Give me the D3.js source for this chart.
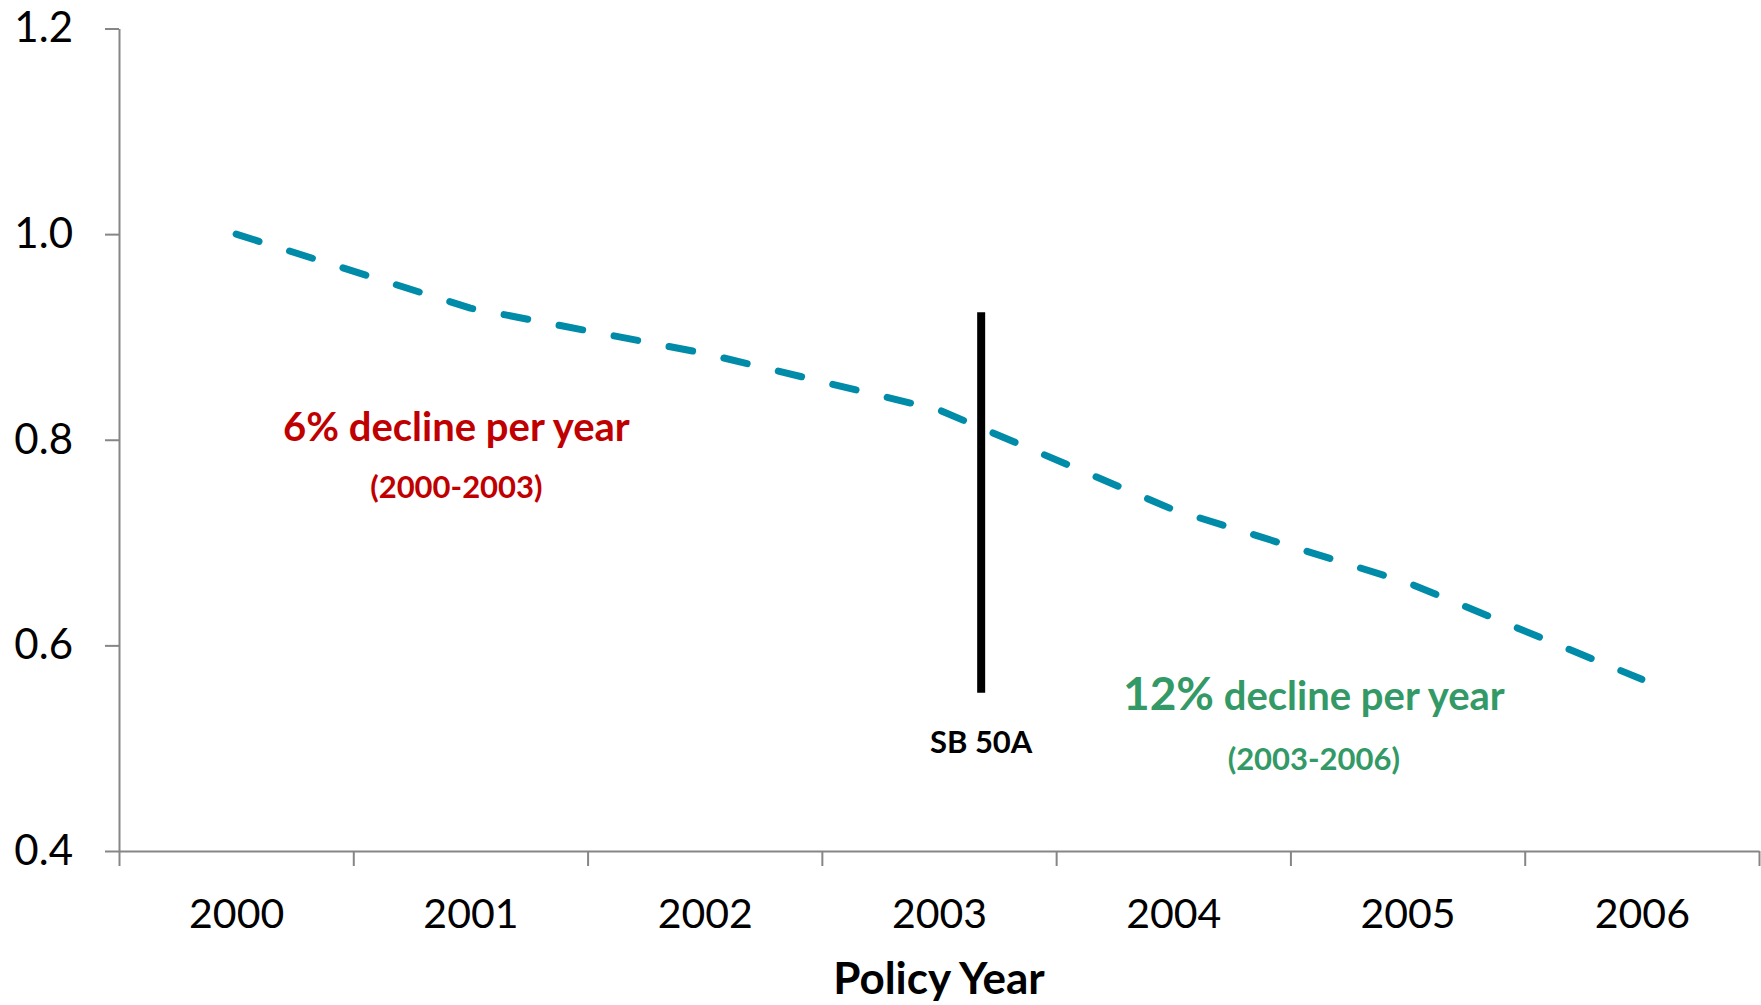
<!DOCTYPE html>
<html>
<head>
<meta charset="utf-8">
<script src="https://cdn.jsdelivr.net/npm/d3@7"></script>
<style>
  body { margin: 0; background: #fff; }
  svg { display: block; }
  text { font-family: Lato, "Open Sans", "Liberation Sans", sans-serif; }
</style>
</head>
<body>
<svg id="chart" width="1761" height="1005"></svg>
<script>
// Relative claim frequency by policy year (2000 = 1.0)
const years = [2000, 2001, 2002, 2003, 2004, 2005, 2006];
const relativeFrequency = [1.0, 0.928, 0.884, 0.829, 0.732, 0.661, 0.567];
const yTicks = [0.4, 0.6, 0.8, 1.0, 1.2];
const xAxisTitle = "Policy Year";

// Reform marker (SB 50A), drawn just after the 2003 point
const reformYear = 2003.18;
const reformExtent = [0.554, 0.924];
const reformLabel = "SB 50A";

// Trend annotations and their [year, value] anchors
const earlyTrend = ["6% decline per year", "(2000-2003)"];
const earlyTrendPos = [[2000.94, 0.799], [2000.94, 0.743]];
const lateTrendRate = "12%";
const lateTrend = [" decline per year", "(2003-2006)"];
const lateTrendPos = [[2004.60, 0.537], [2004.60, 0.479]];

const width = 1761, height = 1005;
const plot = { left: 119, right: 1759, top: 28.5, bottom: 851 };
const axisColor = "#868686";
const lineColor = "#008CA8";
const red = "#C00000";
const green = "#339966";

const svg = d3.select("#chart");
svg.append("rect").attr("width", width).attr("height", height).attr("fill", "#fff");

const x = d3.scaleLinear()
  .domain([years[0] - 0.5, years[years.length - 1] + 0.5])
  .range([plot.left, plot.right]);
const y = d3.scaleLinear().domain([0.4, 1.2]).range([plot.bottom, plot.top]);

// Y axis
const yAxis = svg.append("g")
  .attr("transform", `translate(${plot.left},0)`)
  .call(d3.axisLeft(y).tickValues(yTicks).tickSize(14).tickPadding(32)
    .tickSizeOuter(0).tickFormat(d3.format(".1f")));
yAxis.selectAll("path, line").attr("stroke", axisColor).attr("stroke-width", 2);
yAxis.selectAll("text").attr("font-size", 42).attr("fill", "#000");

// X axis: tick marks between categories, labels at category centres
const boundaries = d3.range(years.length + 1).map(i => years[0] - 0.5 + i);
const xAxis = svg.append("g")
  .attr("transform", `translate(0,${plot.bottom})`)
  .call(d3.axisBottom(x).tickValues(boundaries).tickSize(15)
    .tickSizeOuter(0).tickFormat(() => ""));
xAxis.selectAll("path, line").attr("stroke", axisColor).attr("stroke-width", 2);

const xLabels = svg.append("g")
  .attr("transform", `translate(0,${plot.bottom})`)
  .call(d3.axisBottom(x).tickValues(years).tickSize(0).tickFormat(d3.format("d")));
xLabels.select(".domain").remove();
xLabels.selectAll("text")
  .attr("font-size", 41).attr("fill", "#000")
  .attr("y", 77).attr("dy", null);

svg.append("text")
  .attr("x", x(2003)).attr("y", 994)
  .attr("text-anchor", "middle")
  .attr("font-size", 44).attr("font-weight", "bold").attr("fill", "#000")
  .text(xAxisTitle);

// Trend line
const points = years.map((yr, i) => ({ year: yr, value: relativeFrequency[i] }));
svg.append("path")
  .datum(points)
  .attr("fill", "none")
  .attr("stroke", lineColor)
  .attr("stroke-width", 7)
  .attr("stroke-linecap", "round")
  .attr("stroke-linejoin", "round")
  .attr("stroke-dasharray", "24 32")
  .attr("d", d3.line().x(d => x(d.year)).y(d => y(d.value)));

// Reform marker
svg.append("line")
  .attr("x1", x(reformYear)).attr("x2", x(reformYear))
  .attr("y1", y(reformExtent[1])).attr("y2", y(reformExtent[0]))
  .attr("stroke", "#000").attr("stroke-width", 8);
svg.append("text")
  .attr("x", x(reformYear)).attr("y", y(0.495))
  .attr("text-anchor", "middle")
  .attr("font-size", 31).attr("font-weight", "bold").attr("fill", "#000")
  .text(reformLabel);

// Annotations
svg.append("text")
  .attr("x", x(earlyTrendPos[0][0])).attr("y", y(earlyTrendPos[0][1]))
  .attr("text-anchor", "middle")
  .attr("font-size", 40).attr("font-weight", "bold").attr("fill", red)
  .text(earlyTrend[0]);
svg.append("text")
  .attr("x", x(earlyTrendPos[1][0])).attr("y", y(earlyTrendPos[1][1]))
  .attr("text-anchor", "middle")
  .attr("font-size", 31).attr("font-weight", "bold").attr("fill", red)
  .text(earlyTrend[1]);

const late = svg.append("text")
  .attr("x", x(lateTrendPos[0][0])).attr("y", y(lateTrendPos[0][1]))
  .attr("text-anchor", "middle")
  .attr("font-weight", "bold").attr("fill", green);
late.append("tspan").attr("font-size", 46).text(lateTrendRate);
late.append("tspan").attr("font-size", 40).text(lateTrend[0]);
svg.append("text")
  .attr("x", x(lateTrendPos[1][0])).attr("y", y(lateTrendPos[1][1]))
  .attr("text-anchor", "middle")
  .attr("font-size", 31).attr("font-weight", "bold").attr("fill", green)
  .text(lateTrend[1]);
</script>
</body>
</html>
